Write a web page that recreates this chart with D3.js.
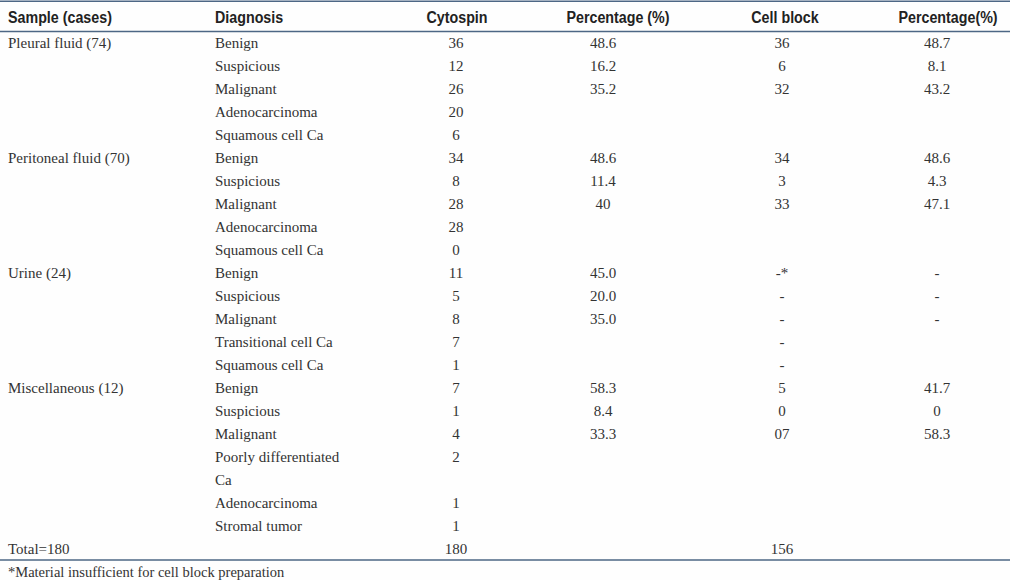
<!DOCTYPE html>
<html>
<head>
<meta charset="utf-8">
<script src="https://cdn.jsdelivr.net/npm/d3@7"></script>
<style>
  html, body { margin: 0; padding: 0; background: #fefefe; }
  svg { display: block; }
</style>
</head>
<body>
<svg id="chart" width="1010" height="580"></svg>
<script>
// ---------- data ----------
const headers = ["Sample (cases)", "Diagnosis", "Cytospin", "Percentage (%)", "Cell block", "Percentage(%)"];
const samples = ["Pleural fluid (74)", "", "", "", "",
                 "Peritoneal fluid (70)", "", "", "", "",
                 "Urine (24)", "", "", "", "",
                 "Miscellaneous (12)", "", "", "", "", "", "",
                 "Total=180"];
const diagnoses = ["Benign", "Suspicious", "Malignant", "Adenocarcinoma", "Squamous cell Ca",
                   "Benign", "Suspicious", "Malignant", "Adenocarcinoma", "Squamous cell Ca",
                   "Benign", "Suspicious", "Malignant", "Transitional cell Ca", "Squamous cell Ca",
                   "Benign", "Suspicious", "Malignant", "Poorly differentiated", "Ca", "Adenocarcinoma", "Stromal tumor",
                   ""];
const cytospin = ["36", "12", "26", "20", "6",
                  "34", "8", "28", "28", "0",
                  "11", "5", "8", "7", "1",
                  "7", "1", "4", "2", "", "1", "1",
                  "180"];
const cytoPct = ["48.6", "16.2", "35.2", "", "",
                 "48.6", "11.4", "40", "", "",
                 "45.0", "20.0", "35.0", "", "",
                 "58.3", "8.4", "33.3", "", "", "", "",
                 ""];
const cellBlock = ["36", "6", "32", "", "",
                   "34", "3", "33", "", "",
                   "-*", "-", "-", "-", "-",
                   "5", "0", "07", "", "", "", "",
                   "156"];
const cellPct = ["48.7", "8.1", "43.2", "", "",
                 "48.6", "4.3", "47.1", "", "",
                 "-", "-", "-", "", "",
                 "41.7", "0", "58.3", "", "", "", "",
                 ""];
const footnote = "*Material insufficient for cell block preparation";

// ---------- layout ----------
const W = 1010, H = 580;
const svg = d3.select("#chart");
const lineColor = "#4d6785";
const textColor = "#333333";
const headColor = "#222222";
const condense = 0.84;

const nRows = samples.length;
const y = d3.scaleLinear().domain([0, nRows - 1]).range([43, 549]);

const cols = [
  { hx: 8,   bx: 8,   anchor: "start",  data: samples },
  { hx: 215, bx: 215, anchor: "start",  data: diagnoses },
  { hx: 457, bx: 456, anchor: "middle", data: cytospin },
  { hx: 618, bx: 603, anchor: "middle", data: cytoPct },
  { hx: 785, bx: 782, anchor: "middle", data: cellBlock },
  { hx: 948, bx: 937, anchor: "middle", data: cellPct }
];

// rules
const rules = [1.25, 31.5, 560];
svg.selectAll("line.rule").data(rules).join("line")
  .attr("class", "rule")
  .attr("x1", 0).attr("x2", W)
  .attr("y1", d => d).attr("y2", d => d)
  .attr("stroke", lineColor).attr("stroke-width", 1.5);

// header (condensed bold sans)
svg.selectAll("text.head").data(cols).join("text")
  .attr("class", "head")
  .attr("transform", d => `translate(${d.hx},17) scale(${condense},1)`)
  .attr("dy", "0.36em")
  .attr("text-anchor", d => d.anchor)
  .attr("font-family", "'Liberation Sans', Arial, sans-serif")
  .attr("font-weight", "bold")
  .attr("font-size", 17)
  .attr("fill", headColor)
  .text((d, i) => headers[i]);

// body cells
cols.forEach((c) => {
  svg.append("g").selectAll("text").data(c.data).join("text")
    .attr("x", c.bx)
    .attr("y", (d, i) => y(i))
    .attr("dy", "0.35em")
    .attr("text-anchor", c.anchor)
    .attr("font-family", "'Liberation Serif', 'Times New Roman', serif")
    .attr("font-size", 15)
    .attr("fill", textColor)
    .text(d => d);
});

// footnote
svg.append("text")
  .attr("x", 8).attr("y", 572).attr("dy", "0.35em")
  .attr("font-family", "'Liberation Serif', 'Times New Roman', serif")
  .attr("font-size", 14.5)
  .attr("fill", textColor)
  .text(footnote);
</script>
</body>
</html>
